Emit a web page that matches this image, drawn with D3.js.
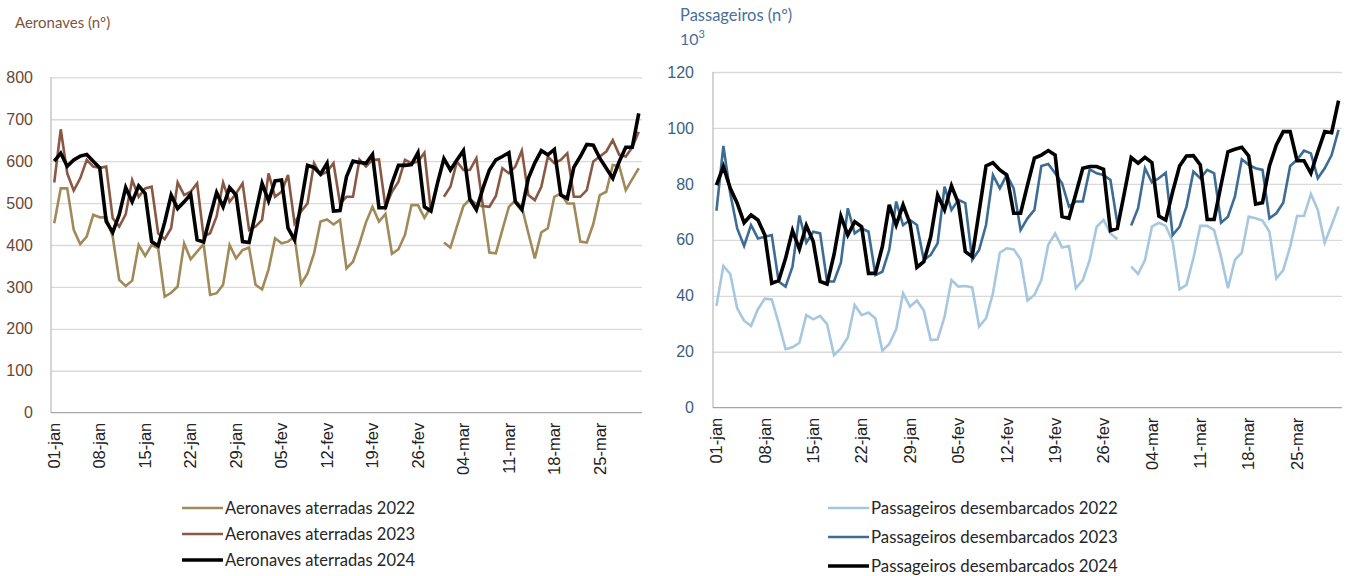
<!DOCTYPE html>
<html>
<head>
<meta charset="utf-8">
<script src="https://cdn.jsdelivr.net/npm/d3@7"></script>
<style>
  body { margin: 0; background: #fff; }
  svg { font-family: Lato, "Open Sans", sans-serif; }
</style>
</head>
<body>
<svg id="chart" width="1346" height="576"></svg>
<script>
// days 01-jan .. 31-mar (2024 calendar, 91 days)
var months = ['jan', 'fev', 'mar'];
var fmtDay = d3.timeFormat('%d');
var days = d3.timeDay.range(new Date(2024, 0, 1), new Date(2024, 3, 1))
    .map(d => fmtDay(d) + '-' + months[d.getMonth()]);

var tickLabels = ['01-jan','08-jan','15-jan','22-jan','29-jan','05-fev','12-fev',
                  '19-fev','26-fev','04-mar','11-mar','18-mar','25-mar'];

// aircraft landed (no 29-fev in 2022/2023)
var aero2022 = [452,535,535,436,402,420,472,466,466,420, 317,302,315,400,374,400,392,277,286,301,
                404,366,384,402,281,285,305,400,368,388, 394,305,294,342,416,404,408,420,307,332,
                380,456,461,449,460,344,360,404,454,491, 456,474,379,390,424,495,495,465,491,null,
                406,394,444,493,509,498,491,382,380,436, 491,506,491,428,368,430,440,515,523,499,
                499,408,406,450,519,527,591,588,531,557, 583];
var aero2023 = [549,676,571,530,559,603,587,584,587,464, 444,473,555,515,535,539,428,414,440,549,
                519,527,547,420,428,468,549,503,523,547, 436,444,460,571,515,527,567,452,480,499,
                595,567,575,595,499,515,515,604,587,603, 604,491,527,551,603,595,599,620,480,null,
                515,539,599,579,579,607,493,491,517,583, 571,587,625,519,507,539,611,595,603,619,
                515,515,531,599,611,623,650,615,611,633, 670];
var aero2024 = [600,619,588,603,612,616,600,584,456,430, 472,537,503,541,523,408,398,454,519,487,
                503,521,412,407,468,525,491,537,519,408, 406,476,547,505,553,555,440,412,499,590,
                585,569,595,481,482,563,600,597,595,616, 489,489,547,590,590,592,620,491,481,547,
                606,579,603,625,509,484,535,579,603,611, 620,503,484,559,596,625,615,628,519,511,
                585,611,640,638,607,583,559,599,633,633, 714];

// passengers disembarked (thousands)
var pax2022 = [36.4,50.7,47.8,35.5,31.1,29.2,35.2,39.0,38.7,30.2, 20.9,21.6,23.2,33.1,31.6,32.8,29.9,18.8,21.2,25.1,
               36.7,33.1,34.0,31.9,20.4,22.8,28.0,40.9,36.1,38.3, 34.7,24.2,24.4,32.5,45.6,43.3,43.5,43.0,29.0,31.9,
               40.9,55.4,57.0,56.6,53.0,38.3,40.3,45.6,58.2,62.3, 57.3,57.8,42.7,45.6,52.8,64.7,67.1,62.3,60.2,null,
               50.4,47.8,52.8,64.7,66.1,65.0,59.4,42.3,43.9,53.4, 65.0,65.0,63.5,54.0,42.7,52.8,55.4,68.3,67.7,66.9,
               62.9,46.2,49.2,57.6,68.5,68.5,76.4,70.7,59.0,65.3, 71.9];
var pax2023 = [70.4,93.6,76.6,64.1,57.8,65.3,60.5,61.1,61.7,45.1, 43.3,50.4,68.7,59.0,62.9,62.3,45.1,45.1,51.8,71.3,
               62.3,64.1,62.9,47.4,48.6,56.4,73.7,65.3,67.1,65.3, 52.8,54.6,58.8,79.0,70.7,74.3,73.1,52.8,56.4,65.3,
               83.2,78.4,83.2,78.4,63.5,67.7,70.7,86.4,87.1,83.8, 80.2,71.9,73.7,73.7,85.2,83.8,83.2,81.4,65.9,null,
               65.1,71.3,85.6,80.5,82.0,84.0,61.7,64.7,71.9,84.4, 82.0,85.0,83.8,66.1,68.3,75.4,88.8,86.8,85.6,85.0,
               67.7,69.5,73.3,86.4,88.6,91.9,90.9,82.0,85.6,90.3, 99.3];
var pax2024 = [79.6,86.2,78.4,73.1,66.1,68.9,67.1,61.7,44.5,45.4, 53.4,63.3,56.7,65.1,59.4,45.1,44.2,54.6,68.5,61.7,
               66.5,64.7,48.0,48.0,57.6,72.5,65.3,72.5,65.9,50.2, 52.2,61.1,76.0,70.7,79.3,73.1,55.8,54.0,70.1,86.4,
               87.6,85.0,83.2,69.5,69.5,79.6,89.2,90.3,91.9,90.3, 68.3,67.7,76.6,85.6,86.2,86.2,85.2,63.3,64.1,76.6,
               89.4,87.4,89.5,87.6,68.5,67.1,77.2,86.4,90.0,90.1, 86.8,67.3,67.3,79.6,91.5,92.4,93.1,90.0,72.8,73.3,
               86.4,93.9,98.7,98.7,88.3,88.3,83.8,91.5,98.7,98.3, 109.8];

var aeroNames = ['Aeronaves aterradas 2022', 'Aeronaves aterradas 2023', 'Aeronaves aterradas 2024'];
var paxNames = ['Passageiros desembarcados 2022', 'Passageiros desembarcados 2023', 'Passageiros desembarcados 2024'];

var svg = d3.select('#chart');

function drawPanel(p) {
    var g = svg.append('g');

    var x = d3.scaleBand().domain(days).range([p.left, p.right]).padding(0);
    var y = d3.scaleLinear().domain([0, p.max]).range([p.bottom, p.top]);

    // gridlines
    g.append('g')
        .attr('transform', `translate(${p.left},0)`)
        .call(d3.axisLeft(y).tickValues(d3.range(p.step, p.max + 1, p.step))
            .tickSize(-(p.right - p.left)).tickFormat(''))
        .call(a => a.select('.domain').remove())
        .call(a => a.selectAll('line').attr('stroke', '#d9d9d9').attr('stroke-width', 1.3));

    // y axis labels
    g.append('g')
        .attr('transform', `translate(${p.left},0)`)
        .call(d3.axisLeft(y).tickValues(d3.range(0, p.max + 1, p.step)).tickSize(0).tickPadding(p.pad))
        .call(a => a.select('.domain').remove())
        .call(a => a.selectAll('text')
            .attr('fill', p.tickColor).style('font-size', '16px'));

    // axis lines
    g.append('line')
        .attr('x1', p.left).attr('x2', p.left).attr('y1', p.top).attr('y2', p.bottom)
        .attr('stroke', '#bfbfbf').attr('stroke-width', 1.3);
    g.append('line')
        .attr('x1', p.left).attr('x2', p.right).attr('y1', p.bottom).attr('y2', p.bottom)
        .attr('stroke', '#a6a6a6').attr('stroke-width', 1.3);

    // x axis
    g.append('g')
        .attr('transform', `translate(0,${p.bottom})`)
        .call(d3.axisBottom(x).tickValues(tickLabels).tickSize(0))
        .call(a => a.select('.domain').remove())
        .call(a => a.selectAll('text')
            .attr('transform', 'rotate(-90)')
            .attr('text-anchor', 'end')
            .attr('x', -10).attr('y', 0).attr('dy', '0.35em')
            .attr('fill', '#222').style('font-size', '16.5px'));

    var line = d3.line()
        .defined(d => d != null)
        .x((d, i) => x(days[i]) + x.bandwidth() / 2)
        .y(d => y(d));

    p.series.forEach(function(s) {
        g.append('path')
            .datum(s.values)
            .attr('d', line)
            .attr('fill', 'none')
            .attr('stroke', s.color)
            .attr('stroke-width', s.width)
            .attr('stroke-linejoin', 'miter');
    });

    // legend
    var leg = g.selectAll('.leg')
        .data(p.series)
        .enter()
        .append('g')
        .attr('transform', (d, i) => `translate(${p.legX},${p.legY + i * p.legGap})`);
    leg.append('line')
        .attr('x1', 0).attr('x2', 41)
        .attr('stroke', d => d.color)
        .attr('stroke-width', d => d.width);
    leg.append('text')
        .attr('x', 43).attr('dy', '0.35em')
        .attr('fill', '#262626')
        .style('font-size', p.legFont)
        .text(d => d.name);
}

drawPanel({
    left: 51, right: 642, top: 77.3, bottom: 412.7,
    max: 800, step: 100, pad: 18, tickColor: '#6b4737',
    legX: 182, legY: 508, legGap: 26, legFont: '16.5px',
    series: [
        {name: aeroNames[0], values: aero2022, color: '#a08a5a', width: 2.6},
        {name: aeroNames[1], values: aero2023, color: '#8a5943', width: 2.6},
        {name: aeroNames[2], values: aero2024, color: '#000000', width: 3.6}
    ]
});

drawPanel({
    left: 713, right: 1342, top: 72, bottom: 407.7,
    max: 120, step: 20, pad: 19, tickColor: '#3c5f80',
    legX: 828, legY: 508, legGap: 29, legFont: '16.8px',
    series: [
        {name: paxNames[0], values: pax2022, color: '#a7c7de', width: 2.6},
        {name: paxNames[1], values: pax2023, color: '#3d6c94', width: 2.6},
        {name: paxNames[2], values: pax2024, color: '#000000', width: 3.6}
    ]
});

// titles
svg.append('text')
    .attr('x', 15).attr('y', 28)
    .attr('fill', '#7b5443')
    .style('font-size', '15px')
    .text('Aeronaves (nº)');

svg.append('text')
    .attr('x', 680).attr('y', 21)
    .attr('fill', '#4a7099')
    .style('font-size', '16.5px')
    .text('Passageiros (nº)');

var pw = svg.append('text')
    .attr('x', 680).attr('y', 45)
    .attr('fill', '#4a7099')
    .style('font-size', '16px');
pw.append('tspan').text('10');
pw.append('tspan').attr('dy', -7).style('font-size', '11px').text('3');
</script>
</body>
</html>
